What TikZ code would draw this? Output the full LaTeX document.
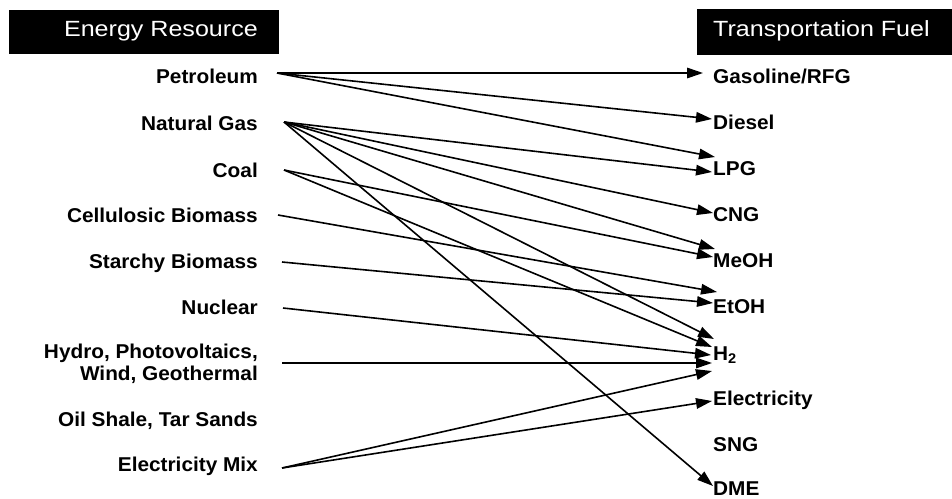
\documentclass[tikz,border=0pt]{standalone}
\usepackage{fontspec}
\setmainfont[FakeStretch=1.04]{Liberation Sans}
\newfontfamily\headfont[FakeStretch=1.14]{Liberation Sans}
\usetikzlibrary{arrows.meta,calc}
\begin{document}
\begin{tikzpicture}[x=1pt,y=-1pt,
  hdrbox/.style={fill=black, inner sep=0pt, anchor=north west},
  hdrtext/.style={text=white, inner sep=0pt, font=\headfont\fontsize{22}{26}\selectfont},
  lbl/.style={inner sep=0pt, font=\bfseries\fontsize{20}{22}\selectfont},
  oneline/.style={text height=14pt, text depth=0pt},
  src/.style={lbl, anchor=east},
  fuel/.style={lbl, oneline, anchor=west},
  link/.style={line width=1.6pt, -{Triangle[length=16pt,width=10.5pt]}}
]
\useasboundingbox (0,0) rectangle (952,498);
\fill[white] (0,0) rectangle (952,498);

% column headers
\node[hdrbox, minimum width=270pt, minimum height=44pt] (hl) at (9,10) {};
\node[hdrtext, anchor=base east] (hlt) at (258,36) {Energy Resource};
\node[hdrbox, minimum width=255pt, minimum height=46pt] (hr) at (697,9) {};
\node[hdrtext, anchor=base west] (hrt) at (713,36) {Transportation Fuel};

% energy resources
\node[src, oneline] (pet)  at (258,76)  {Petroleum};
\node[src, oneline] (ng)   at (258,123) {Natural Gas};
\node[src, oneline] (coal) at (258,170) {Coal};
\node[src, oneline] (cel)  at (258,215) {Cellulosic Biomass};
\node[src, oneline] (sta)  at (258,261) {Starchy Biomass};
\node[src, oneline] (nuc)  at (258,307) {Nuclear};
\node[src, align=right] (hyd) at (258,364) {Hydro, Photovoltaics,\\Wind, Geothermal};
\node[src, oneline] (oil)  at (258,419) {Oil Shale, Tar Sands};
\node[src, oneline] (mix)  at (258,464) {Electricity Mix};

% transportation fuels
\node[fuel] (gas)  at (713,76)    {Gasoline/RFG};
\node[fuel] (die)  at (713,122)   {Diesel};
\node[fuel] (lpg)  at (713,168)   {LPG};
\node[fuel] (cng)  at (713,214)   {CNG};
\node[fuel] (meoh) at (713,260)   {MeOH};
\node[fuel] (etoh) at (713,306)   {EtOH};
\node[fuel] (htwo) at (713,353)   {H\textsubscript{2}};
\node[fuel] (elec) at (713,398)   {Electricity};
\node[fuel] (sng)  at (713,444)   {SNG};
\node[fuel] (dme)  at (713,488.5) {DME};

% start points of the links
\coordinate (pet-o)  at ($(pet.east)+(19,-3)$);
\coordinate (ng-o)   at ($(ng.east)+(26,-1)$);
\coordinate (coal-o) at ($(coal.east)+(26,0)$);
\coordinate (cel-o)  at ($(cel.east)+(20,0)$);
\coordinate (sta-o)  at ($(sta.east)+(24,1)$);
\coordinate (nuc-o)  at ($(nuc.east)+(25,1)$);
\coordinate (hyd-o)  at ($(hyd.east)+(24,-1)$);
\coordinate (mix-o)  at ($(mix.east)+(24,4)$);

% links
\draw[link] (pet-o) -- ($(gas.west)+(-10,-3)$);
\draw[link] (pet-o) -- ($(die.west)+(-1,-3)$);
\draw[link] (pet-o) -- ($(lpg.west)+(2,-11)$);

\draw[link] (ng-o) -- ($(lpg.west)+(-1,4)$);
\draw[link] (ng-o) -- ($(cng.west)+(0,-1)$);
\draw[link] (ng-o) -- ($(meoh.west)+(2,-11)$);
\draw[link] (ng-o) -- ($(htwo.west)+(1,-14)$);
\draw[link] (ng-o) -- ($(dme.west)+(0,-2.5)$);

\draw[link] (coal-o) -- ($(meoh.west)+(0,-3)$);
\draw[link] (coal-o) -- ($(htwo.west)+(-1,-6)$);

\draw[link] (cel-o) -- ($(etoh.west)+(4,-14)$);
\draw[link] (sta-o) -- ($(etoh.west)+(0,-3)$);

\draw[link] (nuc-o) -- ($(htwo.west)+(-2,2)$);
\draw[link] (hyd-o) -- ($(htwo.west)+(-1,10)$);

\draw[link] (mix-o) -- ($(htwo.west)+(-1,18)$);
\draw[link] (mix-o) -- ($(elec.west)+(-1,3)$);
\end{tikzpicture}
\end{document}
